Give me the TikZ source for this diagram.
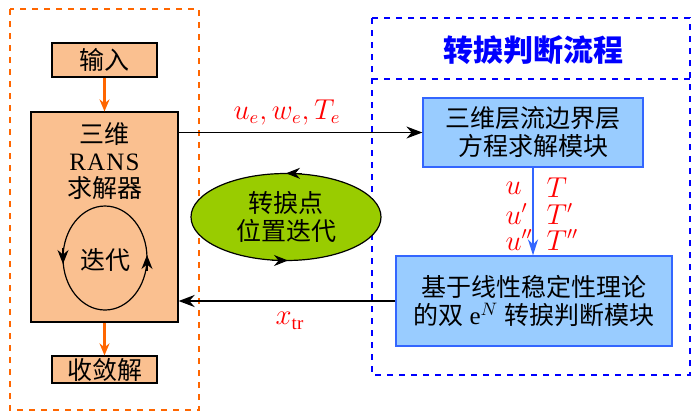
\documentclass[tikz,border=0pt]{standalone}
\usepackage{fontspec}
\setmainfont{Liberation Serif}
\newfontfamily\cjk{Noto Sans CJK SC}
\usetikzlibrary{arrows.meta,shapes.geometric}
\definecolor{peach}{RGB}{250,192,144}
\definecolor{dashorange}{RGB}{255,102,0}
\definecolor{lightblue}{RGB}{153,204,255}
\definecolor{edgeblue}{RGB}{51,102,255}
\definecolor{grass}{RGB}{153,204,0}
\begin{document}
\begin{tikzpicture}[x=.5pt,y=-.5pt,line width=.6pt,
 font=\cjk\fontsize{12.5}{14}\selectfont,
 obox/.style={draw,fill=peach,inner sep=0pt},
 bbox/.style={draw=edgeblue,fill=lightblue,inner sep=0pt,align=center},
 redtxt/.style={red,inner sep=0pt,font=\fontsize{13.5}{15}\selectfont}]
\useasboundingbox (0,0) rectangle (700,419);
\draw[dashorange,dashed,line width=.9pt] (10,9) rectangle (199,410);
\draw[blue,dashed,line width=.9pt] (372,18) rectangle (690,375) (372,79)--(690,79);
\node[blue,font=\cjk\bfseries\fontsize{15}{17}\selectfont] (title) at (533,50) {转捩判断流程};
\node[obox,minimum width=52.5pt,minimum height=17pt] (in) at (104.5,60) {输入};
\node[obox,minimum width=73.5pt,minimum height=105pt] (rans) at (104.5,217) {};
\node[obox,minimum width=52.5pt,minimum height=13.5pt] (out) at (104.5,369.5) {收敛解};
\node[align=center,font=\cjk\fontsize{12.5}{13.5}\selectfont] (ranstxt) at (104.5,161) {三维\\{\rmfamily R\kern.6pt A\kern.6pt N\kern.6pt S}\\求解器};
\draw (105,258) ellipse (42 and 52);
\draw[-{Stealth[length=7pt,width=5.5pt]}] (63,248)--(63,264);
\draw[-{Stealth[length=7pt,width=5.5pt]}] (147,271)--(147,255);
\node (iter) at (105,260) {迭代};
\node[ellipse,draw,fill=grass,minimum width=95pt,minimum height=43.5pt,inner sep=0pt,align=center] (loc) at (286,217) {转捩点\\位置迭代};
\draw[-{Stealth[length=7pt,width=5.5pt]}] (302,173.3)--(286,173.3);
\draw[-{Stealth[length=7pt,width=5.5pt]}] (272,260.5)--(288,260.5);
\node[bbox,minimum width=110pt,minimum height=34.5pt] (bl) at (533,132.5) {三维层流边界层\\方程求解模块};
\node[bbox,minimum width=138pt,minimum height=45pt] (stab) at (534,301) {基于线性稳定性理论\\的双 {\rmfamily e$^N$} 转捩判断模块};
\draw[dashorange,line width=1.2pt,-{Stealth[length=6pt,width=5pt]}] (in)--(rans);
\draw[dashorange,line width=1.2pt,-{Stealth[length=6pt,width=5pt]}] (rans)--(out);
\draw[-{Stealth[length=8pt,width=6pt]}] (rans.east |- bl.west)--(bl.west);
\draw[line width=1.2pt,-{Stealth[length=8pt,width=6pt]}] (stab.west)--(rans.east |- stab.west);
\draw[edgeblue,line width=1.2pt,-{Stealth[length=8pt,width=5pt]}] (bl.south)--(stab.north -| bl.south);
\node[redtxt] (edge) at (287,112) {$u_e,w_e,T_e$};
\node[redtxt] (xtr) at (290,321) {$x_{\mathrm{tr}}$};
\foreach \y/\p in {188/,214/',240/''}{
 \node[redtxt,anchor=west] at (505,\y) {$u\p$};
 \node[redtxt,anchor=west] at (546,\y) {$T\p$};}
\end{tikzpicture}
\end{document}
